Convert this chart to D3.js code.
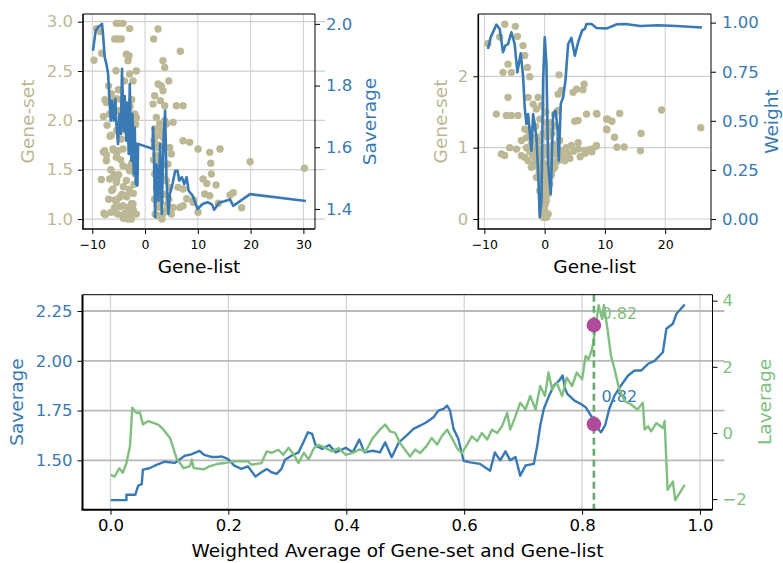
<!doctype html>
<html lang="en">
<head>
  <meta charset="utf-8">
  <style>
    body { margin: 0; background: #fff; }
    text { font-family: "DejaVu Sans", sans-serif; }
  </style>
</head>
<body>
  <script src="https://d3js.org/d3.v7.min.js"></script>
  <script>
    // ---- data ----
    // top-left: Gene-list vs Gene-set scatter, with Saverage line on twin axis
    var tlScatter = [
      [-9.68,2.61],[-9.17,2.93],[-8.22,2.68],[-5.44,2.983],[-4.81,2.983],[-4.18,2.983],[-5.76,2.825],[-5.13,2.825],
      [-4.5,2.825],[-2.92,2.93],[-3.55,2.67],[-3.04,2.655],[-3.23,2.605],[-1.65,2.5],[-2.92,2.47],[-2.28,2.40],
      [-5.51,2.503],[-5.07,2.31],[-5.37,2.22],[-4.43,2.21],[-2.53,2.21],[-2.85,2.14],[-2.23,2.04],[-7.6,2.21],
      [-7.9,2.04],[-6.39,2.27],[-6.08,2.2],[-7.34,2.18],[-6.71,2.065],[-1.97,2.065],[-1.65,2.03],[-1.78,1.96],
      [-6.64,1.84],[-6.0,1.70],[-5.37,1.635],[-4.5,1.81],[-7.9,1.68],[-7.3,1.65],[-5.37,1.90],[-4.1,1.986],
      [-3.17,2.04],[-7.66,1.693],[-6.08,1.71],[-5.13,1.693],[-4.18,1.71],[-7.34,1.59],[-5.44,1.625],[-4.18,1.54],
      [-3.23,1.523],[-2.92,1.49],[-2.53,1.565],[-1.9,1.71],[-1.9,1.46],[-8.29,1.4],[-6.71,1.405],[-5.44,1.37],
      [-3.55,1.39],[-5.37,1.395],[-4.1,1.327],[-6.08,1.304],[-6.32,1.29],[-2.23,1.26],[-5.44,1.186],[-4.81,1.22],
      [-3.55,1.236],[-3.48,1.226],[-5.7,1.193],[-4.75,1.125],[-2.53,1.159],[-2.23,1.091],[-3.8,1.058],[-4.12,1.007],
      [-7.8,1.06],[-7.5,1.045],[-7.66,1.05],[-6.39,1.068],[-5.76,1.118],[-4.18,1.135],[-3.23,1.118],[-2.28,1.152],
      [-1.65,1.05],[-4.18,1.034],[-2.92,1.05],
      [-8.5,2.9],[-6.9,2.35],[-7.2,1.95],[-6.5,1.5],[-5.9,1.45],[-5.0,1.45],[-4.6,1.6],[-3.9,1.9],
      [-3.5,2.1],[-2.6,1.8],[-2.1,1.35],[-3.0,1.3],[-4.4,1.25],[-6.9,1.2],[-5.2,1.05],[-3.3,1.0],
      [-2.6,1.0],[-4.9,2.1],[-3.9,2.4],[-6.4,1.85],
      [2.46,2.926],[1.63,2.825],[3.72,2.537],[3.4,2.605],[6.69,2.70],[2.46,2.368],[3.4,2.3],[3.09,2.35],
      [1.82,2.25],[1.51,2.165],[3.72,2.149],[5.93,2.149],[7.2,2.149],[2.14,2.03],[2.77,1.963],[1.82,1.912],
      [3.72,1.997],[4.04,1.963],[5.3,1.98],[2.27,1.845],[3.4,1.828],[2.46,1.726],[7.2,1.794],[8.46,1.777],
      [4.67,1.726],[4.98,1.659],[4.35,1.557],[10.04,1.71],[12.25,1.676],[2.14,1.523],[1.82,1.456],[2.14,1.321],
      [2.77,1.253],[4.04,1.388],[4.67,1.321],[6.25,1.321],[7.2,1.304],[10.99,1.405],[12.57,1.456],[2.77,1.118],
      [3.4,1.05],[2.46,1.034],[5.3,1.118],[6.57,1.118],[7.2,1.135],[9.09,1.169],[10.04,1.068],[4.04,1.084],
      [11.3,1.253],[12.25,1.236],[2.0,1.65],[2.5,1.6],[3.0,1.45],[1.7,1.8],[2.9,1.18],[3.2,1.0],
      [4.5,1.2],[5.0,1.05],[3.8,1.4],[1.6,1.6],
      [1.8,1.2],[2.3,1.4],[2.6,1.75],[3.1,1.9],[3.6,1.25],[4.2,1.15],[3.3,1.55],[1.9,1.05],
      [2.9,2.2],[4.5,2.4],
      [14.2,1.71],[12.45,1.565],[11.7,1.36],[13.45,1.345],[16.1,1.243],[16.7,1.267],[13.9,1.16],[18.3,1.115],
      [19.9,1.58],[30.2,1.514],[7.9,1.206],[9.2,1.19]
    ];
    var tlSaverage = [
      [-9.87,1.913],[-9.36,1.978],[-8.9,1.989],[-8.16,2.0],[-7.97,1.968],[-7.65,1.892],[-7.33,1.87],[-7.0,1.838],
      [-6.7,1.74],[-6.5,1.686],[-6.26,1.751],[-5.94,1.686],[-5.62,1.756],[-5.43,1.675],[-5.12,1.611],[-4.85,1.708],
      [-4.6,1.643],[-4.37,1.854],[-4.05,1.654],[-3.86,1.766],[-3.55,1.621],[-3.36,1.745],[-3.1,1.578],[-2.9,1.805],
      [-2.6,1.556],[-2.39,1.708],[-2.14,1.513],[-1.95,1.664],[-1.76,1.481],[-1.64,1.611],[-1.45,1.476],[-1.32,1.611],
      [1.4,1.595],[1.52,1.665],[1.7,1.567],[1.9,1.373],[2.16,1.545],[2.54,1.427],[2.86,1.61],[3.17,1.384],
      [3.49,1.621],[3.8,1.719],[4.06,1.492],[4.44,1.384],[4.7,1.449],[5.2,1.481],[5.71,1.524],[6.15,1.524],
      [6.47,1.492],[6.98,1.503],[7.42,1.481],[7.87,1.503],[8.25,1.459],[9.0,1.443],[9.95,1.4],[10.9,1.416],
      [11.85,1.422],[12.7,1.414],[13.1,1.397],[14.0,1.42],[15.0,1.425],[16.1,1.431],[16.7,1.41],[19.9,1.448],
      [30.5,1.426]
    ];
    var tlXTicks = [-10, 0, 10, 20, 30];
    var tlYTicks = [1.0, 1.5, 2.0, 2.5, 3.0];
    var tlY2Ticks = [1.4, 1.6, 1.8, 2.0];

    // top-right: Gene-list vs Gene-set scatter, with Weight line on twin axis
    var trScatter = [
      [-9.39,2.46],[-6.62,2.73],[-4.85,2.70],[-7.45,2.55],[-4.52,2.56],[-3.3,2.29],[-2.86,2.125],[-6.07,2.17],
      [-5.51,2.055],[-6.9,2.055],[-2.47,1.995],[-3.58,2.43],[2.4,2.02],[2.79,1.80],[2.24,1.75],[5.28,1.82],
      [4.73,1.775],[6.56,1.89],[-6.07,1.705],[-2.74,1.705],[-1.08,1.705],[-8.0,1.47],[-6.34,1.45],[-5.51,1.45],
      [-4.41,1.45],[-1.91,1.61],[-1.36,1.54],[-0.53,1.59],[-3.3,1.26],[-2.74,1.24],[-2.19,1.26],[1.68,1.47],
      [2.24,1.52],[5.01,1.37],[5.56,1.38],[6.95,1.47],[8.6,1.48],[10.27,1.40],[10.27,1.26],[-5.79,1.0],
      [-4.68,0.98],[-6.62,0.89],[-7.17,0.91],[-3.85,1.10],[-3.02,1.14],[-1.08,1.0],[-0.53,0.91],[-0.81,1.10],
      [0.85,1.0],[1.41,1.05],[2.79,0.96],[3.62,1.0],[4.45,1.03],[5.56,0.98],[6.67,0.96],[7.78,0.98],
      [8.6,1.03],[5.56,1.07],
      [-2.74,0.817],[-1.91,0.771],[-1.08,0.724],[-0.53,0.677],[-0.25,0.537],[0.02,0.444],[0.3,0.257],[0.58,0.07],
      [0.02,0.117],[-0.25,0.257],[-0.81,0.397],[-1.36,0.584],[-2.19,0.724],[1.13,0.63],[1.68,0.724],[2.24,0.817],
      [2.79,0.864],[3.35,0.817],[3.9,0.911],[0.85,0.49],[0.58,0.35],[1.41,0.771],[-3.3,0.864],[-3.85,0.888],
      [0.3,0.023],[-0.25,0.023],[-0.53,0.817],[0.02,0.771],[0.58,0.724],[-1.64,0.911],[0.58,0.911],[1.68,0.911],
      [-0.5,0.5],[-0.1,0.35],[0.4,0.55],[-1.1,0.85],[0.9,0.85],[-0.3,0.15],[0.1,0.6],[-0.7,0.7],
      [0.6,0.45],[1.2,1.2],[-1.5,1.3],[0.2,1.35],[-0.3,1.2],[0.5,1.15],[1.0,1.35],[-2.0,1.1],[2.5,1.1],
      [-2.5,0.95],[-2.0,0.9],[-1.5,0.85],[-1.2,0.75],[-0.9,0.65],[-0.7,0.55],[-0.4,0.42],[-0.2,0.3],
      [0.1,0.2],[0.4,0.35],[0.7,0.5],[1.0,0.6],[1.4,0.7],[1.9,0.8],[2.6,0.9],[3.1,0.95],
      [4.2,0.85],[4.8,0.95],[-3.0,1.0],[-2.2,1.05],[-1.7,1.0],[0.2,0.9],[1.2,0.95],[2.0,1.0],
      [-0.9,0.95],[0.0,1.0],[-0.4,0.75],[0.3,0.68],[0.8,0.78],[-1.4,1.15],[0.6,1.25],[1.8,1.3],
      [-0.8,1.4],[0.2,1.5],[-0.1,0.08],
      [8.67,1.47],[10.44,1.40],[11.16,1.37],[10.33,1.25],[11.6,1.145],[12.0,1.005],[13.2,1.01],[12.45,1.48],
      [16.0,1.20],[15.9,0.957],[19.4,1.528],[25.9,1.28],[8.55,1.02],[7.84,0.943],[7.28,0.967],[6.73,0.92],
      [5.9,0.873],[6.35,1.81]
    ];
    var trWeight = [
      [-9.39,0.866],[-8.95,0.925],[-8.0,0.99],[-7.45,0.968],[-6.9,0.849],[-6.51,0.883],[-6.07,0.891],[-5.51,0.951],
      [-4.96,0.891],[-4.52,0.747],[-3.96,0.844],[-3.58,0.73],[-3.3,0.569],[-3.02,0.484],[-2.74,0.535],[-2.47,0.441],
      [-2.19,0.348],[-1.91,0.535],[-1.64,0.484],[-1.36,0.416],[-1.08,0.246],[-0.81,0.009],[-0.53,0.093],[-0.25,0.705],
      [0.02,0.925],[0.3,0.79],[0.58,0.28],[1.02,0.127],[1.41,0.535],[1.8,0.552],[2.13,0.467],[2.35,0.297],
      [2.68,0.586],[3.07,0.62],[3.46,0.705],[3.9,0.891],[4.45,0.922],[5.01,0.832],[5.56,0.9],[6.23,0.96],
      [6.67,0.968],[6.95,0.993],[7.78,0.993],[8.6,0.973],[10.33,0.971],[12.0,0.992],[13.4,0.993],[15.86,0.983],
      [18.9,0.987],[21.9,0.983],[26.1,0.975]
    ];
    var trXTicks = [-10, 0, 10, 20];
    var trYTicks = [0, 1, 2];
    var trY2Ticks = [0, 0.25, 0.5, 0.75, 1.0];

    // bottom: Saverage and Laverage against the weighted average
    var bSaverage = [
      [0.0003,1.30],[0.027,1.30],[0.027,1.327],[0.042,1.327],[0.047,1.373],[0.053,1.38],[0.055,1.453],[0.066,1.46],
      [0.075,1.473],[0.092,1.493],[0.109,1.487],[0.126,1.523],[0.137,1.53],[0.151,1.547],[0.159,1.527],[0.171,1.517],
      [0.182,1.517],[0.188,1.52],[0.199,1.507],[0.21,1.473],[0.222,1.457],[0.233,1.47],[0.246,1.418],[0.256,1.44],
      [0.265,1.457],[0.273,1.44],[0.282,1.432],[0.29,1.457],[0.296,1.503],[0.307,1.523],[0.319,1.54],[0.327,1.59],
      [0.335,1.641],[0.342,1.633],[0.348,1.575],[0.359,1.557],[0.371,1.577],[0.382,1.54],[0.399,1.563],[0.411,1.54],
      [0.422,1.604],[0.431,1.54],[0.445,1.548],[0.457,1.54],[0.466,1.59],[0.477,1.515],[0.489,1.59],[0.495,1.605],
      [0.502,1.624],[0.514,1.658],[0.525,1.674],[0.536,1.691],[0.548,1.716],[0.556,1.75],[0.565,1.758],[0.571,1.775],
      [0.576,1.75],[0.582,1.658],[0.59,1.608],[0.599,1.498],[0.61,1.49],[0.627,1.482],[0.644,1.448],[0.652,1.54],
      [0.661,1.5],[0.67,1.545],[0.678,1.5],[0.687,1.517],[0.695,1.423],[0.704,1.474],[0.718,1.482],[0.724,1.574],
      [0.729,1.675],[0.735,1.758],[0.744,1.825],[0.752,1.876],[0.761,1.9],[0.767,1.926],[0.771,1.86],[0.775,1.834],
      [0.787,1.8],[0.798,1.783],[0.806,1.767],[0.815,1.725],[0.823,1.675],[0.832,1.641],[0.839,1.675],[0.846,1.758],
      [0.855,1.825],[0.866,1.876],[0.878,1.926],[0.889,1.951],[0.9,1.951],[0.912,1.985],[0.923,2.0],[0.937,2.043],
      [0.943,2.161],[0.954,2.186],[0.96,2.236],[0.974,2.282]
    ];
    var bLaverage = [
      [0.0003,-1.27],[0.007,-1.32],[0.015,-1.065],[0.021,-1.2],[0.027,-0.91],[0.033,-0.405],[0.037,0.76],[0.044,0.6],
      [0.05,0.62],[0.055,0.255],[0.064,0.36],[0.081,0.255],[0.09,0.1],[0.101,-0.15],[0.112,-0.76],[0.124,-1.065],
      [0.135,-1.0],[0.138,-0.8],[0.141,-1.06],[0.158,-1.1],[0.169,-1.0],[0.181,-0.94],[0.193,-0.91],[0.21,-0.86],
      [0.233,-0.86],[0.239,-0.96],[0.256,-0.91],[0.265,-0.557],[0.273,-0.6],[0.285,-0.507],[0.293,-0.66],[0.302,-0.45],
      [0.311,-0.65],[0.319,-0.91],[0.328,-0.6],[0.336,-0.8],[0.345,-0.46],[0.353,-0.355],[0.365,-0.46],[0.376,-0.557],
      [0.387,-0.46],[0.399,-0.66],[0.411,-0.6],[0.422,-0.5],[0.433,-0.557],[0.445,-0.15],[0.457,0.1],[0.466,0.255],
      [0.474,0.05],[0.483,0.0],[0.491,-0.3],[0.508,-0.71],[0.517,-0.5],[0.525,-0.61],[0.536,-0.4],[0.545,-0.15],
      [0.554,-0.35],[0.562,-0.1],[0.571,0.1],[0.579,-0.15],[0.588,-0.46],[0.596,-0.61],[0.605,-0.35],[0.613,-0.1],
      [0.622,-0.25],[0.63,0.0],[0.639,-0.2],[0.647,0.1],[0.656,0.0],[0.664,0.2],[0.673,0.61],[0.678,0.1],
      [0.687,0.51],[0.695,0.91],[0.704,0.71],[0.712,1.12],[0.721,0.71],[0.729,1.42],[0.737,1.12],[0.743,1.83],
      [0.749,1.32],[0.757,1.52],[0.766,1.12],[0.774,1.67],[0.783,1.42],[0.791,1.83],[0.8,1.62],[0.806,2.33],
      [0.811,2.23],[0.817,2.54],[0.823,3.2],[0.828,3.86],[0.834,3.45],[0.837,3.86],[0.843,3.15],[0.849,2.33],
      [0.855,1.93],[0.863,1.32],[0.872,0.965],[0.883,0.86],[0.894,0.71],[0.903,0.91],[0.906,0.1],[0.912,0.2],
      [0.917,0.05],[0.926,0.3],[0.937,0.15],[0.94,0.36],[0.945,-1.72],[0.954,-1.47],[0.958,-2.03],[0.974,-1.57]
    ];
    var bXTicks = [0, 0.2, 0.4, 0.6, 0.8, 1.0];
    var bYTicks = [1.5, 1.75, 2.0, 2.25];
    var bY2Ticks = [-2, 0, 2, 4];
    var bestX = 0.82, bestS = 1.682, bestL = 3.26;

    // ---- styling ----
    var tan = "#bcb895", blue = "#3a7ab4", green = "#80bf7f", dashGreen = "#66a96c", magenta = "#b04a9c";

    var svg = d3.select("body").append("svg")
                .attr("width", 783)
                .attr("height", 563);

    function styleAxis(g, color, size) {
      g.attr("font-family", "DejaVu Sans, sans-serif").attr("font-size", size);
      g.select(".domain").remove();
      g.selectAll(".tick line").attr("stroke", "#000").attr("stroke-width", 1);
      g.selectAll(".tick text").attr("fill", color);
    }

    function frame(box, thick) {
      svg.append("line").attr("x1", box.l).attr("x2", box.r).attr("y1", box.t).attr("y2", box.t)
         .attr("stroke", "#000").attr("stroke-width", 1);
      svg.append("line").attr("x1", box.r).attr("x2", box.r).attr("y1", box.t).attr("y2", box.b)
         .attr("stroke", "#000").attr("stroke-width", 1);
      svg.append("line").attr("x1", box.l).attr("x2", box.l).attr("y1", box.t).attr("y2", box.b)
         .attr("stroke", "#000").attr("stroke-width", thick);
      svg.append("line").attr("x1", box.l - thick / 2).attr("x2", box.r).attr("y1", box.b).attr("y2", box.b)
         .attr("stroke", "#000").attr("stroke-width", thick);
    }

    function vlabel(x, y, txt, color, size) {
      svg.append("text").attr("transform", "translate(" + x + "," + y + ") rotate(-90)")
         .attr("text-anchor", "middle").attr("dominant-baseline", "central")
         .attr("font-size", size).attr("fill", color).text(txt);
    }

    // one twin-axis panel: scatter on the left axis, a line on the right axis
    function topPanel(box, xDom, yDom, y2Dom, xt, yt, y2t, pts, linePts, yFmt, y2Fmt, hExtend) {
      var x = d3.scaleLinear().domain(xDom).range([box.l, box.r]);
      var y = d3.scaleLinear().domain(yDom).range([box.b, box.t]);
      var y2 = d3.scaleLinear().domain(y2Dom).range([box.b, box.t]);

      var grid = svg.append("g");
      grid.selectAll(".gx").data(xt).enter().append("line")
          .attr("x1", d => x(d)).attr("x2", d => x(d)).attr("y1", box.t).attr("y2", box.b)
          .attr("stroke", "#cfcfcf").attr("stroke-width", 1);
      grid.selectAll(".gy").data(yt).enter().append("line")
          .attr("x1", box.l).attr("x2", box.r + hExtend).attr("y1", d => y(d)).attr("y2", d => y(d))
          .attr("stroke", "#cfcfcf").attr("stroke-width", 1.2);

      svg.append("g").selectAll("circle").data(pts).enter().append("circle")
         .attr("cx", d => x(d[0])).attr("cy", d => y(d[1])).attr("r", 3.7)
         .attr("fill", tan);

      svg.append("path").datum(linePts)
         .attr("d", d3.line().x(d => x(d[0])).y(d => y2(d[1])))
         .attr("fill", "none").attr("stroke", blue).attr("stroke-width", 2.6)
         .attr("stroke-linejoin", "round");

      frame(box, 1.6);

      svg.append("g").attr("transform", "translate(0," + box.b + ")")
         .call(d3.axisBottom(x).tickValues(xt).tickSize(5).tickPadding(6))
         .call(g => styleAxis(g, "#000", 12.5));
      svg.append("g").attr("transform", "translate(" + box.l + ",0)")
         .call(d3.axisLeft(y).tickValues(yt).tickSize(5).tickPadding(5).tickFormat(d3.format(yFmt)))
         .call(g => styleAxis(g, tan, 16.5));
      svg.append("g").attr("transform", "translate(" + box.r + ",0)")
         .call(d3.axisRight(y2).tickValues(y2t).tickSize(5).tickPadding(6).tickFormat(d3.format(y2Fmt)))
         .call(g => styleAxis(g, blue, 16.5));

      svg.append("text").attr("x", (box.l + box.r) / 2).attr("y", 272.5)
         .attr("text-anchor", "middle").attr("font-size", 18.5).attr("fill", "#000").text("Gene-list");
    }

    topPanel({l: 83, r: 315, t: 14, b: 229}, [-11.76, 32.2], [0.899, 3.078], [1.335, 2.032],
             tlXTicks, tlYTicks, tlY2Ticks, tlScatter, tlSaverage, ".1f", ".1f", 10);
    vlabel(27, 121.5, "Gene-set", tan, 18.5);
    vlabel(369, 121.5, "Saverage", blue, 18.5);

    topPanel({l: 478.3, r: 711, t: 14, b: 229}, [-11.0, 27.6], [-0.14, 2.873], [-0.051, 1.044],
             trXTicks, trYTicks, trY2Ticks, trScatter, trWeight, "d", ".2f", 0);
    vlabel(440, 121.5, "Gene-set", tan, 18.5);
    vlabel(771, 121.5, "Weight", blue, 18.5);

    // ---- bottom panel ----
    var bb = {l: 82.5, r: 712.5, t: 294.7, b: 509.7};
    var bx = d3.scaleLinear().domain([-0.0475, 1.0212]).range([bb.l, bb.r]);
    var by = d3.scaleLinear().domain([1.252, 2.332]).range([bb.b, bb.t]);
    var by2 = d3.scaleLinear().domain([-2.32, 4.18]).range([bb.b, bb.t]);

    var bgrid = svg.append("g");
    bgrid.selectAll(".gx").data(bXTicks).enter().append("line")
         .attr("x1", d => bx(d)).attr("x2", d => bx(d)).attr("y1", bb.t).attr("y2", bb.b)
         .attr("stroke", "#d2d2d2").attr("stroke-width", 1.2);
    bgrid.selectAll(".gy").data(bYTicks).enter().append("line")
         .attr("x1", bb.l).attr("x2", bb.r + 12).attr("y1", d => by(d)).attr("y2", d => by(d))
         .attr("stroke", "#b9b9b9").attr("stroke-width", 1.8);

    svg.append("text").attr("x", bx(0.833)).attr("y", by(1.795))
       .attr("font-size", 16).attr("fill", blue).text("0.82");
    svg.append("text").attr("x", bx(0.833)).attr("y", by2(3.45))
       .attr("font-size", 16).attr("fill", green).text("0.82");

    svg.append("path").datum(bSaverage)
       .attr("d", d3.line().x(d => bx(d[0])).y(d => by(d[1])))
       .attr("fill", "none").attr("stroke", blue).attr("stroke-width", 2.4)
       .attr("stroke-linejoin", "round");
    svg.append("path").datum(bLaverage)
       .attr("d", d3.line().x(d => bx(d[0])).y(d => by2(d[1])))
       .attr("fill", "none").attr("stroke", green).attr("stroke-width", 2.4)
       .attr("stroke-linejoin", "round");

    svg.append("line").attr("x1", bx(bestX)).attr("x2", bx(bestX)).attr("y1", bb.t).attr("y2", bb.b)
       .attr("stroke", dashGreen).attr("stroke-width", 2.6).attr("stroke-dasharray", "7,4");

    svg.append("circle").attr("cx", bx(bestX)).attr("cy", by2(bestL)).attr("r", 7.3).attr("fill", magenta);
    svg.append("circle").attr("cx", bx(bestX)).attr("cy", by(bestS)).attr("r", 7.3).attr("fill", magenta);

    frame(bb, 2);

    svg.append("g").attr("transform", "translate(0," + bb.b + ")")
       .call(d3.axisBottom(bx).tickValues(bXTicks).tickSize(5).tickPadding(5).tickFormat(d3.format(".1f")))
       .call(g => styleAxis(g, "#000", 16.5));
    svg.append("g").attr("transform", "translate(" + bb.l + ",0)")
       .call(d3.axisLeft(by).tickValues(bYTicks).tickSize(5).tickPadding(5).tickFormat(d3.format(".2f")))
       .call(g => styleAxis(g, blue, 16.5));
    svg.append("g").attr("transform", "translate(" + bb.r + ",0)")
       .call(d3.axisRight(by2).tickValues(bY2Ticks).tickSize(5).tickPadding(5).tickFormat(d3.format("d")))
       .call(g => styleAxis(g, green, 16.5));

    svg.append("text").attr("x", (bb.l + bb.r) / 2).attr("y", 557)
       .attr("text-anchor", "middle").attr("font-size", 18.5).attr("fill", "#000")
       .text("Weighted Average of Gene-set and Gene-list");
    vlabel(16, 402, "Saverage", blue, 18.5);
    vlabel(764, 402, "Laverage", green, 18.5);
  </script>
</body>
</html>
